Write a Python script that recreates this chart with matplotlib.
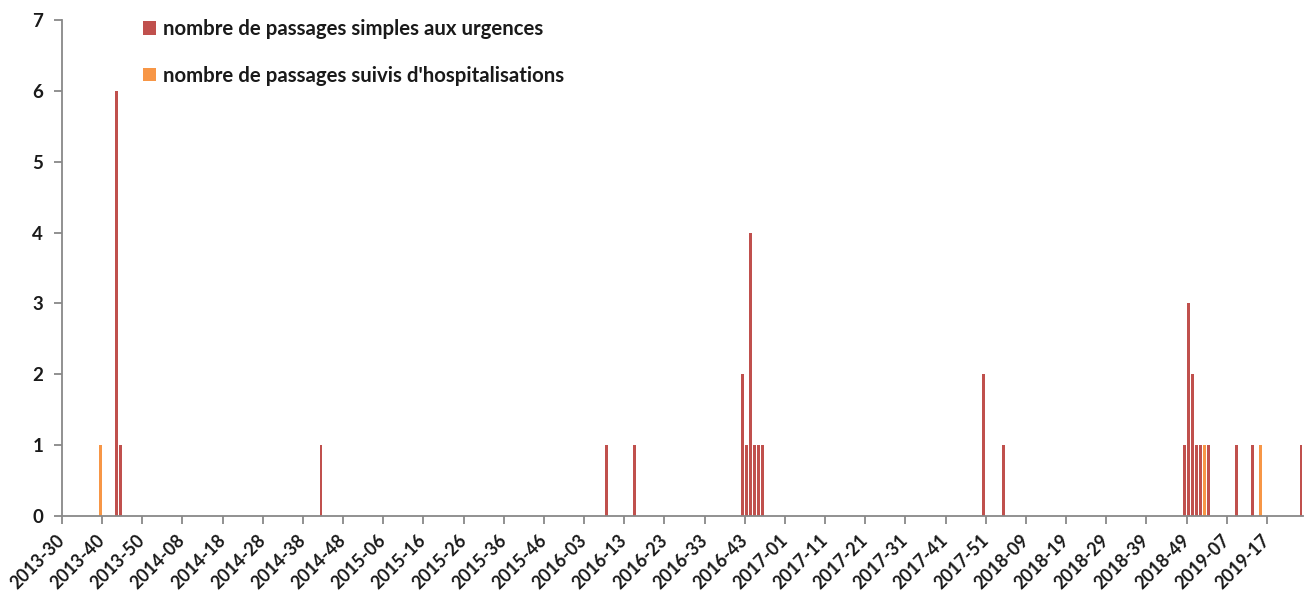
import matplotlib.pyplot as plt
import matplotlib.transforms as mtransforms
import numpy as np

# weeks on the axis: 2013-30 .. 2019-25 (ISO weeks, 2015 has 53)
first_year, first_week = 2013, 30
last_year, last_week = 2019, 25
weeks_in_year = {2013: 52, 2014: 52, 2015: 53, 2016: 52, 2017: 52, 2018: 52, 2019: 52}

# passages simples aux urgences
simples_semaines = ["2013-43", "2013-44", "2014-42", "2016-08", "2016-15",
                    "2016-42", "2016-43", "2016-44", "2016-45", "2016-46", "2016-47",
                    "2017-50", "2018-03",
                    "2018-48", "2018-49", "2018-50", "2018-51", "2018-52",
                    "2019-02", "2019-09", "2019-13", "2019-25"]
simples_valeurs = [6, 1, 1, 1, 1,
                   2, 1, 4, 1, 1, 1,
                   2, 1,
                   1, 3, 2, 1, 1,
                   1, 1, 1, 1]

# passages suivis d'hospitalisations
hospit_semaines = ["2013-39", "2019-01", "2019-15"]
hospit_valeurs = [1, 1, 1]

# build the list of week labels
semaines = []
y, w = first_year, first_week
while True:
    semaines.append(f"{y}-{w:02d}")
    if (y, w) == (last_year, last_week):
        break
    w += 1
    if w > weeks_in_year[y]:
        y, w = y + 1, 1

simples = np.zeros(len(semaines))
for s, v in zip(simples_semaines, simples_valeurs):
    simples[semaines.index(s)] = v
hospit = np.zeros(len(semaines))
for s, v in zip(hospit_semaines, hospit_valeurs):
    hospit[semaines.index(s)] = v

red = "#C0504D"
orange = "#F79646"
axis_grey = "#888888"
txt = "#1a1a1a"

plt.rcParams['font.family'] = ['Lato', 'DejaVu Sans']

fig = plt.figure(figsize=(13.05, 5.96), dpi=100)
ax = fig.add_axes([62 / 1305, 1 - 516 / 596, (1303 - 62) / 1305, (516 - 20) / 596])

x = np.arange(len(semaines))
ax.bar(x, simples, width=0.72, color=red, label="nombre de passages simples aux urgences")
ax.bar(x, hospit, width=0.72, bottom=simples, color=orange,
       label="nombre de passages suivis d'hospitalisations")

ax.set_xlim(-0.5, len(semaines) - 0.5)
ax.set_ylim(0, 7)

# ticks every 10 weeks, on the left edge of the category
tick_idx = np.arange(0, len(semaines), 10)
ax.set_xticks(tick_idx - 0.5)
ax.set_xticklabels([semaines[i] for i in tick_idx], rotation=45, ha='right', va='center',
                   rotation_mode='anchor', fontsize=12.8, fontweight='bold', color=txt)
shift = mtransforms.ScaledTranslation(5 / 100, 0, fig.dpi_scale_trans)
for lab in ax.get_xticklabels():
    lab.set_transform(lab.get_transform() + shift)
ax.set_yticks(range(0, 8))
ax.set_yticklabels([str(v) for v in range(0, 8)], fontsize=13.5, fontweight='bold', color=txt)

ax.tick_params(axis='x', length=5.5, width=1.3, color=axis_grey, pad=10, direction='out')
ax.tick_params(axis='y', length=5.5, width=1.3, color=axis_grey, pad=8, direction='out')

for side in ['top', 'right']:
    ax.spines[side].set_visible(False)
for side in ['left', 'bottom']:
    ax.spines[side].set_color(axis_grey)
    ax.spines[side].set_linewidth(1.3)

leg = ax.legend(loc='upper left', bbox_to_anchor=(73 / 1241, 1.018), frameon=False,
                handlelength=0.65, handleheight=0.65, handletextpad=0.3,
                labelspacing=1.3, borderaxespad=0.0,
                prop={'size': 14.7, 'weight': 'bold'})
for t in leg.get_texts():
    t.set_color(txt)

plt.savefig("out.png", dpi=100)
